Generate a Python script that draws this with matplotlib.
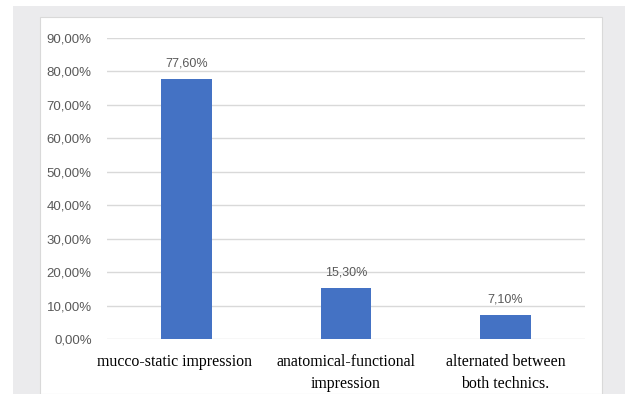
import matplotlib.pyplot as plt
import matplotlib.patches as patches
import matplotlib.ticker as ticker
import matplotlib.transforms as mtransforms

categories = ["mucco-static impression", "anatomical-functional\nimpression", "alternated between\nboth technics."]
values = [77.60, 15.30, 7.10]
value_labels = ["77,60%", "15,30%", "7,10%"]

W, H = 625, 394
fig = plt.figure(figsize=(W / 100, H / 100), dpi=100)

# gray frame and white chart panel (pixel coords -> figure fractions)
def fr(x0, y0, x1, y1):
    return (x0 / W, 1 - y1 / H), (x1 - x0) / W, (y1 - y0) / H

xy, w, h = fr(13, 6, 625, 394)
fig.patches.append(patches.Rectangle(xy, w, h, transform=fig.transFigure,
                                     facecolor="#ebebed", edgecolor="none", zorder=0))
xy, w, h = fr(40, 17, 602, 394)
fig.patches.append(patches.Rectangle(xy, w, h, transform=fig.transFigure,
                                     facecolor="white", edgecolor="#d9d9d9", lw=0.8, zorder=1))

# axes: x 107..585, y 38 (90%) .. 339 (0%)
ax = fig.add_axes([107 / W, 1 - 339 / H, (585 - 107) / W, (339 - 38) / H])
ax.set_facecolor("none")
ax.set_zorder(2)

x = range(len(categories))
ax.bar(x, values, width=0.32, color="#4472C4", zorder=3)
ax.set_xlim(-0.5, 2.5)
ax.set_ylim(0, 90)
ax.yaxis.set_major_locator(ticker.MultipleLocator(10))
ax.yaxis.set_major_formatter(ticker.FuncFormatter(lambda v, p: f"{v:.2f}%".replace(".", ",")))
ax.grid(axis="y", color="#d9d9d9", lw=1, zorder=0)

for s in ax.spines.values():
    s.set_visible(False)
ax.tick_params(axis="y", length=0, pad=11, labelsize=9.5, labelcolor="#595959")
ax.tick_params(axis="x", length=0, pad=11)
ax.set_xticks(list(x))
ax.set_xticklabels(categories, fontfamily="Liberation Serif", fontsize=11.4, color="black",
                   linespacing=1.45)
for lbl in ax.get_yticklabels():
    lbl.set_fontfamily("Liberation Sans")

# the first category label sits a little left of its bar in the original
first = ax.get_xticklabels()[0]
first.set_transform(first.get_transform() + mtransforms.ScaledTranslation(-12 / 100, 0, fig.dpi_scale_trans))

for i, (v, t) in enumerate(zip(values, value_labels)):
    ax.annotate(t, (i, v), xytext=(0, 7), textcoords="offset points", ha="center", va="bottom",
                fontsize=9, color="#595959", fontfamily="Liberation Sans")

fig.savefig("out.png", dpi=100)
